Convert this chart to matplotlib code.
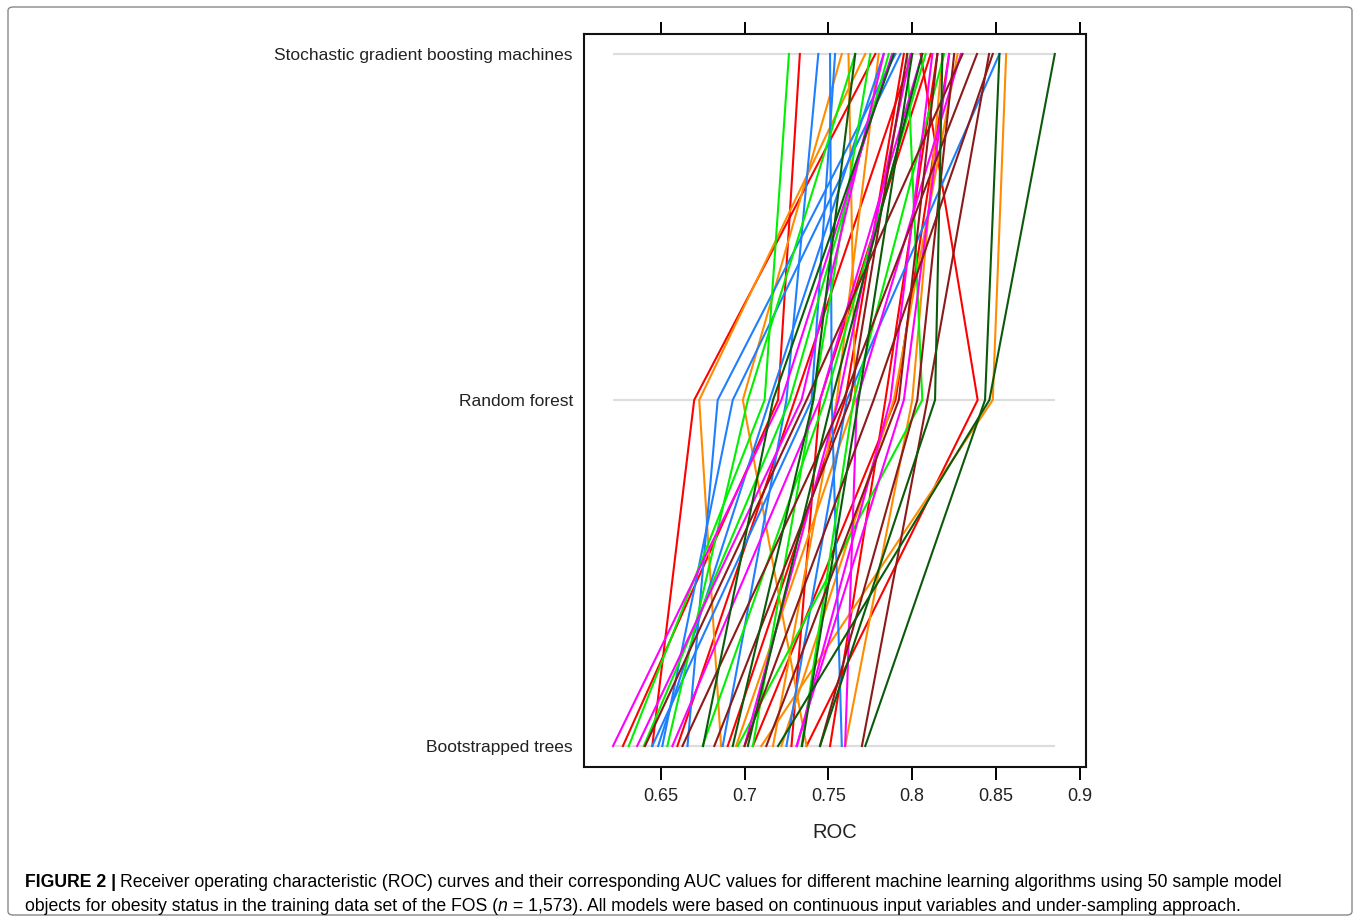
import matplotlib
matplotlib.use("Agg")
import matplotlib.pyplot as plt
from matplotlib.patches import FancyBboxPatch

plt.rcParams['font.family'] = ['Liberation Sans', 'DejaVu Sans']

models = ["Bootstrapped trees", "Random forest", "Stochastic gradient boosting machines"]

# each list: [Bootstrapped trees, Random forest, SGB] ROC values per resample
red_lines = [
    [0.645, 0.670, 0.778],
    [0.6275, 0.720, 0.733],
    [0.737, 0.839, 0.805],
    [0.751, 0.784, 0.815],
    [0.690, 0.760, 0.795],
    [0.728, 0.745, 0.811],
    [0.705, 0.790, 0.822],
    [0.660, 0.730, 0.800],
]
orange_lines = [
    [0.686, 0.673, 0.772],
    [0.710, 0.848, 0.856],
    [0.737, 0.699, 0.758],
    [0.722, 0.789, 0.827],
    [0.717, 0.755, 0.780],
    [0.695, 0.766, 0.762],
    [0.760, 0.800, 0.818],
]
blue_lines = [
    [0.666, 0.684, 0.790],
    [0.651, 0.693, 0.793],
    [0.758, 0.752, 0.751],
    [0.645, 0.740, 0.754],
    [0.687, 0.725, 0.744],
    [0.725, 0.761, 0.852],
    [0.6485, 0.715, 0.783],
]
green_lines = [
    [0.631, 0.712, 0.7265],
    [0.654, 0.702, 0.766],
    [0.675, 0.748, 0.808],
    [0.696, 0.806, 0.797],
    [0.734, 0.765, 0.819],
    [0.640, 0.727, 0.786],
    [0.705, 0.741, 0.775],
]
magenta_lines = [
    [0.6216, 0.722, 0.788],
    [0.636, 0.734, 0.783],
    [0.760, 0.767, 0.829],
    [0.731, 0.795, 0.822],
    [0.657, 0.745, 0.806],
    [0.7313, 0.787, 0.812],
    [0.700, 0.756, 0.799],
]
darkred_lines = [
    [0.6407, 0.737, 0.830],
    [0.663, 0.759, 0.8386],
    [0.770, 0.809, 0.8458],
    [0.700, 0.777, 0.848],
    [0.713, 0.792, 0.815],
    [0.682, 0.763, 0.797],
    [0.745, 0.803, 0.825],
]
darkgreen_lines = [
    [0.693, 0.741, 0.766],
    [0.720, 0.846, 0.885],
    [0.772, 0.8434, 0.852],
    [0.745, 0.8136, 0.818],
    [0.702, 0.752, 0.806],
    [0.7343, 0.768, 0.800],
    [0.6753, 0.717, 0.789],
]

groups = [
    (red_lines, "#FF0000"),
    (orange_lines, "#FF8C00"),
    (blue_lines, "#1E7FFF"),
    (green_lines, "#00F000"),
    (magenta_lines, "#FF00FF"),
    (darkred_lines, "#8B1A1A"),
    (darkgreen_lines, "#0B5A0B"),
]

x_ticks = [0.65, 0.7, 0.75, 0.8, 0.85, 0.9]
x_tick_labels = ["0.65", "0.7", "0.75", "0.8", "0.85", "0.9"]

fig = plt.figure(figsize=(13.55, 9.22), dpi=100)

# outer frame
frame = FancyBboxPatch((8 / 1355, 7 / 922), 1344 / 1355, 908 / 922,
                       boxstyle="round,pad=0,rounding_size=0.004",
                       transform=fig.transFigure, fill=False,
                       edgecolor="#888888", linewidth=1.0)
fig.patches.append(frame)

ax = fig.add_axes([584 / 1355, 1 - 767 / 922, (1086 - 584) / 1355, (767 - 34) / 922])

all_vals = [v for g, _ in groups for line in g for v in line]
vmin, vmax = min(all_vals), max(all_vals)
levels = list(range(len(models)))
for lv in levels:
    ax.plot([vmin, vmax], [lv, lv], color="#DDDDDD", lw=1.6, zorder=1, solid_capstyle="butt")

for lines, col in groups:
    for line in lines:
        ax.plot(line, levels, color=col, lw=1.5, zorder=2)

ax.set_xlim(0.6043, 0.9036)
ax.set_ylim(-21 / 346, 2 + 20 / 346)
ax.set_xticks(x_ticks)
ax.set_xticklabels(x_tick_labels, fontsize=13, color="#222222")
ax.set_yticks(levels)
ax.set_yticklabels(models, fontsize=12.5, color="#222222")
ax.tick_params(axis="y", length=0, pad=8)
ax.tick_params(axis="x", which="both", direction="out", length=9, width=1.4,
               top=True, bottom=True, labeltop=False, pad=6)
for s in ax.spines.values():
    s.set_linewidth(1.5)
    s.set_color("#111111")
ax.set_xlabel("ROC", fontsize=14.5, labelpad=13, color="#222222")

cap_font = ['Liberation Sans', 'DejaVu Sans']
cap_size = 12.7
y1 = 1 - 887 / 922
y2 = 1 - 911 / 922
t1a = fig.text(25 / 1355, y1, "FIGURE 2 |", fontsize=cap_size, family=cap_font,
               fontweight="bold", va="baseline")
fig.canvas.draw()
bb = t1a.get_window_extent()
fig.text((bb.x1 + 4) / 1355, y1,
         "Receiver operating characteristic (ROC) curves and their corresponding AUC values for different machine learning algorithms using 50 sample model",
         fontsize=cap_size, family=cap_font, va="baseline")
t2 = fig.text(25 / 1355, y2, "objects for obesity status in the training data set of the FOS (", fontsize=cap_size,
              family=cap_font, va="baseline")
fig.canvas.draw()
b2 = t2.get_window_extent()
t3 = fig.text(b2.x1 / 1355, y2, "n", fontsize=cap_size, family=cap_font, style="italic", va="baseline")
fig.canvas.draw()
b3 = t3.get_window_extent()
fig.text(b3.x1 / 1355, y2,
         " = 1,573). All models were based on continuous input variables and under-sampling approach.",
         fontsize=cap_size, family=cap_font, va="baseline")

fig.savefig("out.png", dpi=100)
